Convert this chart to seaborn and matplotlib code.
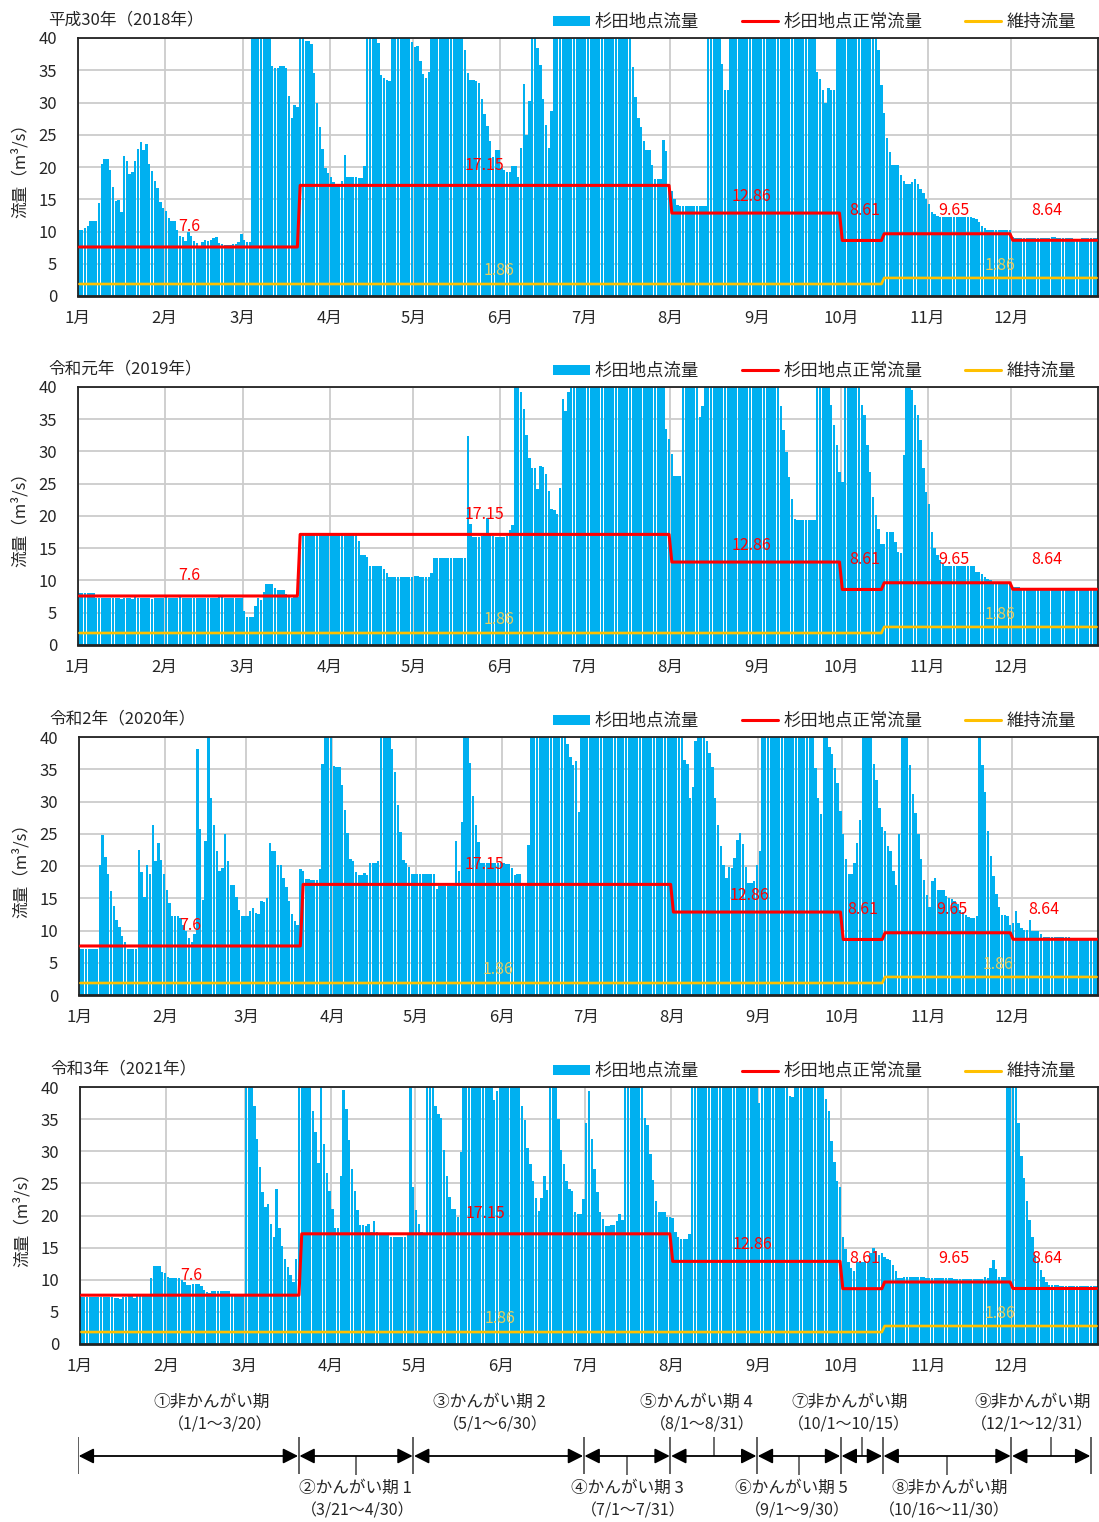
import numpy as np
import pandas as pd
import matplotlib
matplotlib.use("Agg")
import matplotlib.pyplot as plt
import seaborn as sns
from matplotlib.patches import Patch
from matplotlib.lines import Line2D

sns.set_theme(style="white")
plt.rcParams["font.family"] = ["Noto Sans CJK JP", "DejaVu Sans"]

# ---------------- data ----------------
years = [2018, 2019, 2020, 2021]
titles = ["平成30年（2018年）", "令和元年（2019年）", "令和2年（2020年）", "令和3年（2021年）"]
month_labels = [f"{m}月" for m in range(1, 13)]
legend_labels = ["杉田地点流量", "杉田地点正常流量", "維持流量"]

flow_2018 = (
    [10.3, 10.3, 10.5, 10.8, 11.7, 11.7, 11.7, 14.4, 20.4, 21.2, 21.2, 19.6, 16.9, 14.7, 14.9, 13.0,
     21.7, 21.0, 18.9, 19.2, 20.9, 22.8, 23.9, 22.7, 23.5, 20.5, 19.4, 17.8, 16.8, 14.6, 13.6]
    + [13.2, 12.1, 11.6, 11.6, 10.2, 9.3, 9.2, 8.6, 9.9, 9.3, 8.6, 8.2, 7.6, 8.3, 8.7, 8.6, 8.7, 9.0,
       9.2, 8.2, 8.0, 7.9, 7.9, 7.9, 8.0, 8.0, 8.4, 9.6]
    + [8.7, 8.4, 8.4, 40, 40, 40, 40, 40, 40, 40, 35.6, 35.3, 35.4, 35.6, 35.6, 35.4, 31.0, 27.6, 29.6,
       29.3, 40, 40, 39.6, 39.5, 39.0, 34.5, 30.0, 26.2, 22.8, 19.8, 19.0]
    + [18.4, 17.6, 17.2, 17.0, 17.9, 21.9, 18.5, 18.5, 18.5, 18.5, 18.3, 18.3, 20.2, 40, 40, 40, 40, 39.3,
       34.3, 33.8, 33.5, 33.3, 40, 40, 40, 40, 40, 40, 40, 39.4]
    + [38.6, 38.8, 36.4, 34.4, 33.8, 34.7] + [40] * 12
    + [38.2, 34.6, 33.5, 33.5, 33.4, 33.1, 30.5, 28.2, 26.3, 24.0, 21.6, 22.6, 22.7]
    + [19.8, 19.5, 19.3, 19.3, 20.1, 20.1, 18.5, 22.9, 32.9, 25.0, 30.3, 40, 40, 38.4, 35.8, 30.5, 26.5,
       23.0, 28.7] + [40] * 11
    + [40] * 17 + [35.5, 30.8, 27.6, 26.2, 24.1, 22.6, 22.6, 20.3, 18.1, 18.1, 18.1, 24.2, 22.5, 17.3]
    + [16.3, 15.0, 14.1] + [13.9] * 10 + [40] * 5 + [36.0, 31.9, 31.9] + [40] * 10
    + [40] * 21 + [34.8, 33.7, 32.0, 30.0, 32.2, 32.0, 32.0, 40, 40]
    + [40] * 13 + [38.1, 32.7, 28.4, 24.5, 22.3, 20.3, 20.3, 20.3, 18.8, 17.9, 17.3, 17.4, 17.7, 18.1,
                   17.3, 16.6, 16.0, 15.1]
    + [14.2, 13.1, 12.7, 12.4] + [12.2] * 12 + [12.1, 12.0, 11.5, 10.9, 10.5, 10.3] + [10.2] * 8
    + [9.1, 9.0, 9.0, 9.0, 9.0, 9.0, 9.0, 9.0, 9.0, 9.0, 9.0, 9.0, 9.0, 9.0, 9.1, 9.1, 9.0, 9.0, 9.0,
       9.0, 9.0, 9.0, 8.9, 8.9, 8.9, 9.0, 9.0, 9.0, 9.0, 9.0, 9.0]
)

flow_2019 = (
    [8.0, 8.0, 8.0, 8.0, 8.0, 8.0, 7.3, 7.3, 7.3, 7.3, 7.3, 7.3, 7.3, 7.3, 7.3, 7.1, 7.3, 7.3, 7.3, 7.2,
     7.4, 7.3, 7.3, 7.3, 7.3, 7.3, 7.2, 7.3, 7.3, 7.3, 7.3]
    + [7.4, 7.3, 7.3, 7.3, 7.3, 7.4, 7.3, 7.3, 7.3, 7.3, 7.3, 7.3, 7.3, 7.3, 7.3, 7.3, 7.3, 7.3, 7.3,
       7.4, 7.4, 7.3, 7.3, 7.3, 7.3, 7.3, 7.3, 7.3]
    + [5.3, 4.3, 4.3, 4.3, 6.1, 7.3, 7.0, 8.2, 9.4, 9.5, 9.4, 8.9, 8.5, 8.5, 8.5, 7.9, 7.6, 7.3, 7.4,
       7.5] + [17.0] * 11
    + [17.0] * 10 + [16.2, 13.9, 14.0, 13.6, 12.3, 12.3, 12.3, 12.3, 12.3, 11.8, 11.2, 10.6, 10.5, 10.5,
                     10.5, 10.5, 10.5, 10.5, 10.6, 10.5]
    + [10.7, 10.7, 10.6, 10.5, 10.5, 10.5, 11.2] + [13.5] * 12
    + [32.4, 18.8, 16.8, 16.8, 16.7, 16.9, 17.3, 19.7, 17.3, 16.9, 16.8, 16.8]
    + [16.8, 16.7, 16.9, 17.9, 18.6, 40, 40, 39.3, 36.6, 32.5, 29.0, 27.5, 27.5, 24.2, 27.7, 27.6, 26.5,
       23.9, 21.1, 20.9, 20.3, 24.4, 38.1, 36.3, 39.3, 40, 40, 40, 40, 40]
    + [40] * 29 + [33.5, 32.0]
    + [29.6, 26.2, 26.2, 26.2] + [40] * 6 + [35.4, 37.0] + [40] * 19
    + [40] * 8 + [37.0, 33.4, 29.9, 26.1, 22.7, 19.6] + [19.4] * 7 + [40] * 5 + [37.2, 34.1, 31.0, 26.8]
    + [25.3] + [40] * 6 + [37.2, 35.6, 31.0, 26.8, 23.0, 20.1, 18.0, 15.7, 15.7, 17.5, 17.5, 17.5, 15.9,
                           14.4, 14.2, 29.5, 40, 40, 39.6, 37.2, 35.7, 31.8, 27.4, 23.7]
    + [21.8, 17.5, 15.0, 13.9, 13.2, 12.6] + [12.2] * 11 + [11.3, 11.3, 11.0, 10.6, 10.3, 10.0] + [9.8] * 7
    + [9.0, 9.0, 9.0] + [8.9] * 28
)

flow_2020 = (
    [7.2] * 7 + [20.1, 24.8, 21.4, 18.7, 16.2, 13.8, 11.7, 10.5, 9.2, 8.2, 7.2, 7.2, 7.2, 7.2,
                 22.5, 19.1, 15.2, 20.2, 18.8, 26.3, 20.7, 23.5, 21.0, 18.7]
    + [16.3, 14.2, 12.3, 12.3, 12.3, 12.0, 10.9, 9.9, 8.9, 8.2, 9.5, 38.1, 25.8, 14.8, 23.9, 40, 30.5,
       26.3, 22.4, 19.3, 19.7, 24.9, 20.7, 17.1, 17.1, 15.2, 13.2, 12.3, 12.3]
    + [12.3, 13.1, 13.5, 12.7, 12.6, 14.5, 14.4, 15.0, 23.6, 22.4, 22.3, 20.2, 20.2, 18.1, 16.7, 14.5,
       12.6, 11.5, 10.9, 19.6, 19.3, 18.0, 18.0, 17.9, 17.9, 17.9, 19.6, 35.8, 40, 40, 40]
    + [35.5, 35.4, 35.3, 32.6, 28.7, 25.1, 21.1, 20.7, 19.1, 18.6, 18.6, 18.9, 18.6, 20.5, 20.5, 20.5,
       20.7, 40, 40, 40, 40, 38.2, 34.6, 29.5, 25.3, 21.0, 20.5, 19.8, 18.8, 18.8]
    + [18.7] * 7 + [16.5] + [16.9] * 6 + [23.9, 19.2, 26.8, 40, 39.8, 35.9, 30.8, 26.4, 23.7] + [20.5] * 8
    + [20.5, 20.3, 20.3, 19.7, 18.6, 18.7, 18.7, 16.9, 16.9, 23.3] + [40] * 13
    + [38.9, 36.9, 35.7, 36.3, 28.4, 40, 40]
    + [40] * 31
    + [40, 40, 40, 40, 36.5, 35.8, 30.5, 32.3, 39.4, 40, 40, 40, 39.4, 37.5, 35.3, 30.5, 26.4, 23.1,
       20.1, 18.1, 19.8, 19.7, 21.3, 24.1, 25.1, 23.4, 19.8, 17.4, 17.4, 17.6, 20.1]
    + [22.4] + [40] * 19 + [35.2, 30.6, 28.0, 40, 40, 38.5, 37.4, 35.2, 32.9, 28.6]
    + [24.9, 21.1, 18.7, 18.7, 20.5, 23.6, 27.2, 40, 40, 40, 40, 35.8, 33.4, 29.0, 26.0, 25.4, 23.1,
       22.3, 19.2, 17.1, 24.9, 40, 40, 40, 35.6, 31.2, 28.2, 24.9, 21.1, 17.9, 15.5]
    + [13.7, 17.6, 18.1, 16.3, 16.3, 16.3, 15.3, 15.0, 14.9, 14.5, 14.1, 13.2, 12.8, 12.4, 12.1, 12.0,
       12.0, 12.3, 40, 35.6, 31.5, 25.4, 21.5, 18.4, 15.6, 13.7, 12.4, 12.4, 12.3, 10.9]
    + [11.1, 13.0, 11.1, 10.4, 10.1, 10.1, 11.7, 9.9, 9.9, 9.9, 9.4] + [9.0] * 10 + [8.7] * 10
)

flow_2021 = (
    [7.3] * 12 + [7.1, 7.2, 7.0, 7.3, 7.3, 7.4, 7.4, 7.2, 7.6, 7.6, 7.6, 7.6, 7.6,
                  10.2, 12.2, 12.2, 12.2, 11.2, 11.0]
    + [10.5, 10.3, 10.3, 10.3, 10.3, 10.0, 9.7, 9.2, 9.2, 9.3, 9.3, 9.3, 9.0, 8.4, 8.1, 7.9, 8.2, 8.2,
       8.2, 8.2, 8.2, 8.2, 8.2, 7.8, 7.8, 7.8, 7.8, 7.8]
    + [40, 40, 40, 37.0, 31.9, 27.6, 23.6, 21.4, 21.8, 18.7, 16.6, 24.2, 18.0, 15.3, 13.3, 12.0, 10.8,
       9.6, 13.3, 40, 40, 40, 40, 40, 36.2, 33.0, 28.2, 40, 31.2, 26.6, 23.8]
    + [21.0, 18.1, 18.0, 26.1, 39.5, 36.6, 31.8, 27.2, 23.8, 20.9, 18.5, 18.5, 18.3, 18.7, 17.5, 19.1,
       17.5, 17.0, 17.0, 17.0, 17.0, 16.7, 16.6, 16.6, 16.6, 16.6, 16.6, 17.0, 40, 24.5]
    + [20.9, 18.7, 17.4, 17.3, 40, 40, 40, 37.1, 35.8, 35.2, 30.2, 26.2, 22.9, 21.0, 21.0, 19.7, 29.9]
    + [40] * 11 + [37.9, 39.3, 40]
    + [40] * 7 + [37.0, 34.8, 30.5, 28.0, 25.4, 22.8, 20.7, 22.8, 26.1, 24.0, 40, 40, 40, 35.0, 30.2,
                  28.0, 25.3, 24.1, 23.8, 20.6, 20.3, 20.3, 22.6]
    + [34.4, 39.4, 31.9, 27.3, 23.6, 20.5, 19.5, 18.4, 18.4, 18.5, 18.5, 19.2, 20.2, 19.3] + [40] * 7
    + [35.1, 34.1, 29.6, 25.5, 22.2, 20.6, 20.6, 20.6, 19.8, 19.7]
    + [19.6, 17.5, 16.7, 16.3, 16.3, 16.3, 17.1] + [40] * 24
    + [37.5] + [40] * 10 + [38.6, 38.5] + [40] * 11 + [38.2, 36.3, 31.6, 28.4, 25.3, 24.5]
    + [16.7, 14.8, 12.8, 11.8, 11.3, 12.8, 12.7, 12.7, 12.9, 12.8, 14.1, 15.0, 14.4, 13.9, 14.1, 13.6,
       13.3, 13.1, 12.3, 11.4, 10.2, 10.2, 10.4, 10.4, 10.4, 10.4, 10.4, 10.4, 10.4, 10.4, 10.2]
    + [10.2] * 8 + [10.3] + [10.1] * 11 + [10.4, 10.2, 11.8, 13.1, 11.6, 10.4, 10.4, 10.4, 40, 40]
    + [40, 40, 34.4, 29.3, 25.9, 22.2, 19.3, 16.6, 13.9, 12.9, 11.5, 10.5, 9.6, 9.2, 9.2, 9.2, 9.2]
    + [9.1] * 14
)

flows = {2018: flow_2018, 2019: flow_2019, 2020: flow_2020, 2021: flow_2021}

# normal flow (正常流量) by period start (MM-DD)
normal_starts = ["01-01", "03-21", "08-01", "10-01", "10-16", "12-01"]
normal_values = [7.6, 17.15, 12.86, 8.61, 9.65, 8.64]
# maintenance flow (維持流量)
maint_starts = ["01-01", "10-16"]
maint_values = [1.86, 2.8]

# value labels: (text, day position, y value)
red_labels = [("7.6", 40, 10.7), ("17.15", 145.5, 20.3), ("12.86", 241, 15.5),
              ("8.61", 281.5, 13.3), ("9.65", 313.5, 13.3), ("8.64", 346.5, 13.3)]
yellow_labels = [("1.86", 150.5, 3.9), ("1.86", 330, 4.8)]

# irrigation periods (bottom diagram)
period_bounds = ["01-01", "03-21", "05-01", "07-01", "08-01", "09-01", "10-01", "10-16", "12-01", "12-31"]
period_names = ["①非かんがい期", "②かんがい期 1", "③かんがい期 2", "④かんがい期 3", "⑤かんがい期 4",
                "⑥かんがい期 5", "⑦非かんがい期", "⑧非かんがい期", "⑨非かんがい期"]
period_dates = ["（1/1〜3/20）", "（3/21〜4/30）", "（5/1〜6/30）", "（7/1〜7/31）", "（8/1〜8/31）",
                "（9/1〜9/30）", "（10/1〜10/15）", "（10/16〜11/30）", "（12/1〜12/31）"]
period_side = ["up", "down", "up", "down", "up", "down", "up", "down", "up"]
period_mid_tick = [False, True, False, True, True, True, True, True, True]
period_text_right = [68.7, 119.5, 167.4, 216.8, 241.5, 275.5, 297.0, 332.7, 362.4]

# ---------------- style ----------------
BLUE = "#00B0F0"
RED = "#FF0000"
GOLD = "#FFC000"
GOLD_TXT = "#E9CD5C"
GRID = "#CCCCCC"

W, H = 1099, 1522
fig = plt.figure(figsize=(W / 100, H / 100), dpi=100)


def rect(l, t, r, b):
    return [l / W, 1 - b / H, (r - l) / W, (b - t) / H]


axes_px = [(78, 38, 1098, 296), (78, 387, 1098, 645), (79, 737, 1098, 995), (80, 1087, 1098, 1344)]


def step_series(days, starts, values, year):
    out = np.zeros(len(days))
    for s, v in zip(starts, values):
        d0 = pd.Timestamp(f"{year}-{s}")
        out[days >= d0] = v
    return out


for year, title, box in zip(years, titles, axes_px):
    ax = fig.add_axes(rect(*box))
    days = pd.date_range(f"{year}-01-01", f"{year}-12-31", freq="D")
    n = len(days)
    vals = np.array(flows[year], dtype=float)
    assert len(vals) == n, (year, len(vals), n)
    df = pd.DataFrame({
        "pos": np.arange(n) + 0.5,
        "flow": np.minimum(vals, 40),
        "normal": step_series(days, normal_starts, normal_values, year),
        "maint": step_series(days, maint_starts, maint_values, year),
    })

    sns.barplot(data=df, x="pos", y="flow", native_scale=True, color=BLUE, saturation=1,
                width=0.86, linewidth=0, errorbar=None, ax=ax, zorder=2)
    sns.lineplot(data=df, x="pos", y="normal", color=RED, lw=2.2, errorbar=None, ax=ax, zorder=4)
    sns.lineplot(data=df, x="pos", y="maint", color=GOLD, lw=1.9, errorbar=None, ax=ax, zorder=4)

    month_starts = [days.get_loc(pd.Timestamp(f"{year}-{m:02d}-01")) for m in range(1, 13)]
    ax.set_xlim(0, n)
    ax.set_ylim(0, 40)
    ax.set_xticks(month_starts)
    ax.set_xticklabels(month_labels, fontsize=12)
    ax.set_yticks(range(0, 41, 5))
    ax.set_yticklabels([str(v) for v in range(0, 41, 5)], fontsize=12)
    ax.tick_params(axis="y", length=0, pad=15)
    ax.tick_params(axis="x", length=4, width=1, direction="in", pad=10, color="#333333")
    ax.set_xlabel("")
    ax.set_ylabel("")
    ax.set_axisbelow(True)
    ax.grid(True, color=GRID, lw=1.3)
    for sp in ax.spines.values():
        sp.set_visible(True)
        sp.set_color("#222222")
        sp.set_linewidth(1.3)
    ax.spines["bottom"].set_linewidth(2)

    for t, d, v in red_labels:
        ax.text(d, v, t, color=RED, fontsize=11.5, ha="center", va="center", zorder=5)
    for t, d, v in yellow_labels:
        ax.text(d, v, t, color=GOLD_TXT, fontsize=11.5, ha="center", va="center", zorder=5)

    ax.text(-30 / 1020, 1 + 18 / 258, title, transform=ax.transAxes, fontsize=12,
            ha="left", va="center")
    ax.text(-58 / 1020, 0.5, "流量（m³/s）", transform=ax.transAxes, rotation=90,
            fontsize=12, ha="center", va="center")

    handles = [Patch(facecolor=BLUE, edgecolor="none"),
               Line2D([], [], color=RED, lw=2.2),
               Line2D([], [], color=GOLD, lw=2.2)]
    ax.legend(handles, legend_labels, ncol=3, loc="center right",
              bbox_to_anchor=(0.9785, 1 + 16 / 258), frameon=False, fontsize=12.5,
              handlelength=2.1, handleheight=0.5, handletextpad=0.3, columnspacing=2.45,
              borderpad=0, borderaxespad=0)

# ---------------- bottom period diagram ----------------
ref_year = 2021
bax = fig.add_axes(rect(78, 1380, 1098, 1522))
bax.set_xlim(0, 365)
bax.set_ylim(1522, 1380)
bax.axis("off")

bdays = [pd.Timestamp(f"{ref_year}-{b}").dayofyear - 1 for b in period_bounds]
bdays[-1] = bdays[-1] - 1.5
LINE_Y = 1456
bax.vlines(bdays, 1437, 1474, color="#444444", lw=1.2)
for i in range(len(bdays) - 1):
    x0, x1 = bdays[i], bdays[i + 1]
    bax.annotate("", xy=(x1, LINE_Y), xytext=(x0, LINE_Y),
                 arrowprops=dict(arrowstyle="<|-|>,head_length=0.75,head_width=0.38",
                                 color="black", lw=1.3, shrinkA=0.5, shrinkB=0.5,
                                 mutation_scale=12))
    mid = (x0 + x1) / 2
    if period_mid_tick[i]:
        if period_side[i] == "up":
            bax.vlines(mid, 1437, LINE_Y, color="#444444", lw=1.1)
        else:
            bax.vlines(mid, LINE_Y, 1475, color="#444444", lw=1.1)
    xr = period_text_right[i]
    if period_side[i] == "up":
        bax.text(xr, 1402, period_names[i], ha="right", va="center", fontsize=12)
        bax.text(xr + 0.7, 1425, period_dates[i], ha="right", va="center", fontsize=11.5)
    else:
        bax.text(xr, 1488, period_names[i], ha="right", va="center", fontsize=12)
        bax.text(xr + 0.7, 1511, period_dates[i], ha="right", va="center", fontsize=11.5)

fig.savefig("out.png", dpi=100, facecolor="white")
